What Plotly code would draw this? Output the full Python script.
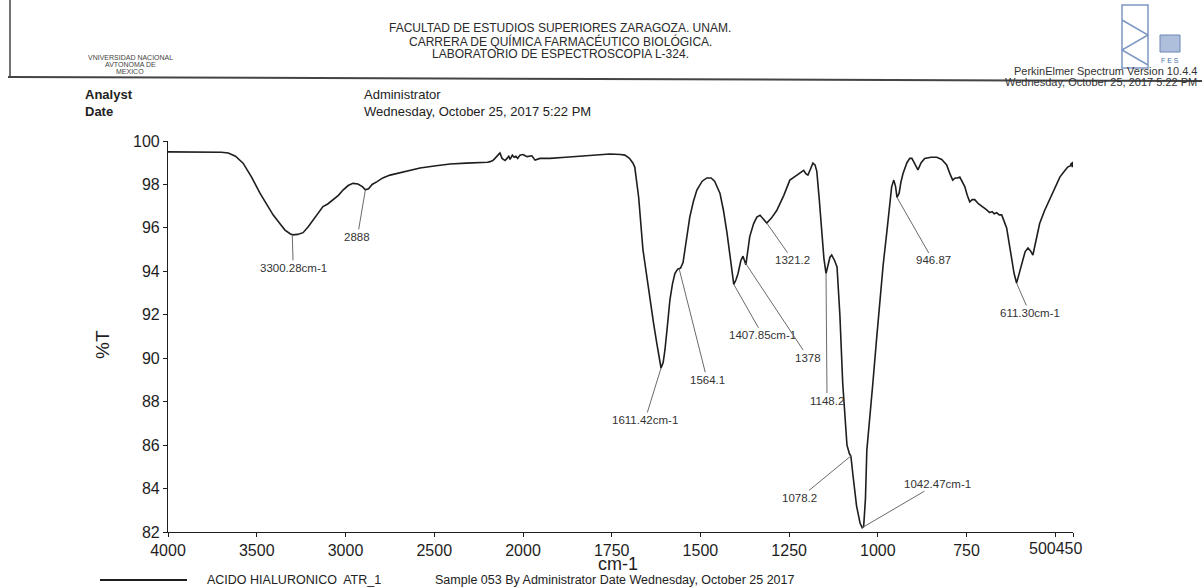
import plotly.graph_objects as go

# ---------------- data ----------------
wn_high = [4000, 3900, 3800, 3700, 3660, 3620, 3577, 3530, 3482, 3440, 3408, 3370, 3341, 3310,
           3296, 3270, 3239, 3210, 3183, 3150, 3127, 3100, 3070, 3040, 3014, 2985, 2958, 2930,
           2905, 2888, 2870, 2850, 2822, 2790, 2749, 2693, 2640, 2580, 2500, 2411, 2320, 2242,
           2200, 2186, 2170, 2158, 2145, 2130, 2118, 2101, 2090, 2080, 2073, 2060, 2050, 2040,
           2030, 2017, 2000]
t_high = [99.5, 99.5, 99.5, 99.48, 99.45, 99.3, 98.98, 98.35, 97.6, 97.05, 96.6, 96.2, 95.9, 95.72,
          95.68, 95.7, 95.78, 96.05, 96.36, 96.75, 96.98, 97.1, 97.28, 97.5, 97.74, 97.95, 98.05, 98.02,
          97.9, 97.75, 97.8, 98.0, 98.13, 98.3, 98.43, 98.54, 98.65, 98.76, 98.85, 98.94, 98.98, 99.0,
          99.02, 99.05, 99.1, 99.2, 99.3, 99.45, 99.2, 99.1, 99.2, 99.3, 99.15, 99.35, 99.25, 99.3,
          99.2, 99.35, 99.38]

wn_low = [2000, 1989, 1975, 1966, 1952, 1924, 1880, 1839, 1800, 1755, 1725, 1713, 1700, 1690,
          1685, 1674, 1662, 1652, 1642, 1632, 1623, 1616, 1611, 1605, 1600, 1593, 1586, 1579,
          1572, 1564, 1556, 1549, 1540, 1530, 1520, 1510, 1495, 1482, 1470, 1460, 1445, 1435,
          1425, 1415, 1406, 1400, 1394, 1386, 1380, 1375, 1372, 1366, 1361, 1350, 1341, 1332,
          1322, 1313, 1300, 1285, 1265, 1248, 1235, 1220, 1209, 1203, 1197, 1190, 1183, 1177,
          1172, 1165, 1158, 1152, 1146, 1140, 1135, 1130, 1122, 1115, 1107, 1099, 1092, 1087,
          1080, 1076, 1070, 1060, 1050, 1044, 1040, 1035, 1031, 1022, 1014, 1004, 994, 985,
          975, 967, 961, 955, 950, 946, 940, 935, 929, 918, 910, 904, 895, 887, 878, 868,
          850, 834, 820, 806, 797, 789, 782, 775, 769, 762, 755, 748, 741, 734, 727, 716,
          704, 695, 685, 678, 672, 665, 658, 651, 644, 637, 630, 623, 616, 609, 603, 594,
          585, 577, 570, 563, 556, 550, 544, 530, 516, 500, 487, 475, 465, 458, 454, 452, 450]
t_low = [99.38, 99.28, 99.32, 99.12, 99.2, 99.2, 99.25, 99.3, 99.35, 99.4, 99.38, 99.35, 99.2, 98.98,
         98.8, 97.4, 95.0, 93.8, 92.68, 91.6, 90.7, 89.9, 89.55, 89.8, 90.38, 91.5, 92.68, 93.4,
         93.9, 94.1, 94.15, 94.4, 95.5, 96.5, 97.2, 97.74, 98.15, 98.3, 98.3, 98.15, 97.6, 96.8,
         95.76, 94.4, 93.4, 93.6, 93.9, 94.5, 94.7, 94.45, 94.3, 95.0, 95.6, 96.2, 96.5, 96.58,
         96.4, 96.22, 96.45, 96.8, 97.5, 98.2, 98.35, 98.5, 98.65, 98.5, 98.43, 98.7, 98.98, 98.9,
         98.6, 97.3, 95.76, 94.6, 93.9, 94.3, 94.65, 94.75, 94.5, 94.2, 92.0, 88.86, 87.0, 86.0,
         85.6, 85.5, 84.6, 83.2, 82.4, 82.2, 82.25, 83.5, 85.77, 87.3, 88.86, 90.8, 92.68, 94.3,
         95.76, 97.0, 97.9, 98.2, 97.9, 97.4, 97.6, 98.1, 98.5, 99.0, 99.2, 99.2, 98.9, 98.67, 99.0, 99.2,
         99.25, 99.25, 99.15, 98.9, 98.5, 98.2, 98.3, 98.3, 98.34, 98.1, 97.9, 97.5, 97.2, 97.3, 97.3, 97.1,
         96.97, 96.85, 96.7, 96.75, 96.65, 96.7, 96.6, 96.6, 96.3, 96.0, 95.3, 94.5, 93.9, 93.46, 93.8, 94.4,
         94.9, 95.07, 94.95, 94.75, 95.3, 95.8, 96.2, 96.8, 97.28, 97.85, 98.34, 98.6, 98.8, 98.85, 99.0, 98.8, 99.05]

peak_labels = ["3300.28cm-1", "2888", "1611.42cm-1", "1564.1", "1407.85cm-1", "1378",
               "1321.2", "1148.2", "1078.2", "1042.47cm-1", "946.87", "611.30cm-1"]
peak_wn = [3300, 2888, 1611, 1560, 1406, 1374, 1313, 1146, 1076, 1044, 946, 609]
peak_t = [95.68, 97.75, 89.55, 94.12, 93.4, 94.4, 96.22, 93.9, 85.5, 82.2, 97.4, 93.46]

x_ticks_high = [4000, 3500, 3000, 2500]
x_ticks_low = [2000, 1750, 1500, 1250, 1000, 750, 500, 450]
y_ticks = [82, 84, 86, 88, 90, 92, 94, 96, 98, 100]

# ---------------- layout geometry (pixels) ----------------
W, H = 1202, 587
L, R, T, B = 168, 129, 141, 55
PW, PH = W - L - R, H - T - B
SPLIT = (523 - L) / PW  # where 2000 cm-1 sits on the axis

# label text offsets (pixels, from the labelled point)
label_off = [(1, 33), (-8, 47), (-16, 52), (28, 111), (29, 51), (63, 95),
             (26, 37), (1, 127), (-51, 42), (75, -44), (36, 63), (13, 30)]


def px(x):
    return (x - L) / PW


def py(y):
    return (H - B - y) / PH


FONT = "Liberation Sans, Arial, sans-serif"
INK = "#1e1e1e"

fig = go.Figure()
fig.add_trace(go.Scatter(x=wn_high, y=t_high, xaxis="x", yaxis="y", mode="lines",
                         line=dict(color=INK, width=1.6), hoverinfo="x+y"))
fig.add_trace(go.Scatter(x=wn_low, y=t_low, xaxis="x2", yaxis="y", mode="lines",
                         line=dict(color=INK, width=1.6), hoverinfo="x+y"))

axis_common = dict(showgrid=False, zeroline=False, showline=True, linecolor=INK, linewidth=1.2,
                   ticks="outside", ticklen=4, tickcolor=INK, tickwidth=1,
                   tickfont=dict(size=16, color=INK, family=FONT))

ann = []
for lab, w, t, (dx, dy) in zip(peak_labels, peak_wn, peak_t, label_off):
    ann.append(dict(x=w, y=t, xref="x" if w >= 2000 else "x2", yref="y", text=lab,
                    showarrow=True, arrowhead=0, arrowwidth=1, arrowcolor="#6a6a6a",
                    ax=dx, ay=dy, standoff=0, font=dict(size=11.5, color="#333", family=FONT)))


def txt(x, y, s, size=12, anchor="left", color="#2a2a2a", bold=False, angle=0):
    if bold:
        s = "<b>" + s + "</b>"
    ann.append(dict(x=px(x), y=py(y), xref="paper", yref="paper", text=s, showarrow=False,
                    xanchor=anchor, yanchor="middle", textangle=angle,
                    font=dict(size=size, color=color, family=FONT)))


# header
txt(560, 28, "FACULTAD DE ESTUDIOS SUPERIORES ZARAGOZA. UNAM.", 12, "center")
txt(560, 41, "CARRERA DE QUÍMICA FARMACÉUTICO BIOLÓGICA.", 12, "center")
txt(560, 54, "LABORATORIO DE ESPECTROSCOPIA L-324.", 12, "center")
txt(130, 57, "VNIVERSIDAD NACIONAL", 7, "center", "#444")
txt(130, 64, "AVTONOMA DE", 7, "center", "#444")
txt(130, 71, "MEXICO", 7, "center", "#444")
txt(1199, 71, "PerkinElmer Spectrum Version 10.4.4", 11, "right", "#333")
txt(1199, 82, "Wednesday, October 25, 2017 5:22 PM", 11, "right", "#333")
txt(1170, 60, "F E S", 7, "center", "#4a6fa5")
txt(83, 94, "Analyst", 13, "left", "#222", bold=True)
txt(83, 112, "Date", 13, "left", "#222", bold=True)
txt(362, 94, "Administrator", 13, "left", "#222")
txt(362, 112, "Wednesday, October 25, 2017 5:22 PM", 13, "left", "#222")

# axis titles and footer
txt(102, 345, "%T", 19, "center", INK, angle=-90)
txt(618, 564, "cm-1", 18, "center", INK)
txt(1055, 548, "500450", 16, "center", INK)
txt(205, 580, "ACIDO HIALURONICO  ATR_1", 12.5, "left", "#222")
txt(433, 580, "Sample 053 By Administrator Date Wednesday, October 25 2017", 12.5, "left", "#222")

shapes = [
    dict(type="line", xref="paper", yref="paper", x0=px(8), y0=py(77), x1=px(1202), y1=py(81),
         line=dict(color="#444", width=2)),
    dict(type="line", xref="paper", yref="paper", x0=px(10), y0=py(0), x1=px(10), y1=py(77),
         line=dict(color="#444", width=1.5)),
    dict(type="line", xref="paper", yref="paper", x0=px(100), y0=py(580), x1=px(187), y1=py(580),
         line=dict(color=INK, width=2)),
    # simplified FES logo outline
    dict(type="path", xref="paper", yref="paper",
         path=f"M {px(1122)} {py(5)} L {px(1148)} {py(5)} L {px(1148)} {py(68)} L {px(1122)} {py(68)} Z "
              f"M {px(1122)} {py(20)} L {px(1148)} {py(35)} L {px(1122)} {py(50)} L {px(1148)} {py(65)}",
         line=dict(color="#7d97c4", width=1.5)),
    dict(type="rect", xref="paper", yref="paper", x0=px(1160), y0=py(35), x1=px(1180), y1=py(52),
         line=dict(color="#6d86b8", width=1), fillcolor="#aebfdc"),
]

fig.update_layout(
    width=W, height=H, margin=dict(l=L, r=R, t=T, b=B),
    paper_bgcolor="white", plot_bgcolor="white", showlegend=False,
    font=dict(family=FONT, color=INK),
    xaxis=dict(domain=[0, SPLIT], range=[4000, 2000], tickvals=x_ticks_high, anchor="y", **axis_common),
    xaxis2=dict(domain=[SPLIT, 1], range=[2000, 450], tickvals=x_ticks_low,
                ticktext=[str(v) if v > 500 else "" for v in x_ticks_low], anchor="y", **axis_common),
    yaxis=dict(range=[82, 100], tickvals=y_ticks, anchor="x", **axis_common),
    annotations=ann, shapes=shapes,
)

fig.write_html("out.html", config={"displayModeBar": False},
               post_script="document.body.style.margin='0px';")
